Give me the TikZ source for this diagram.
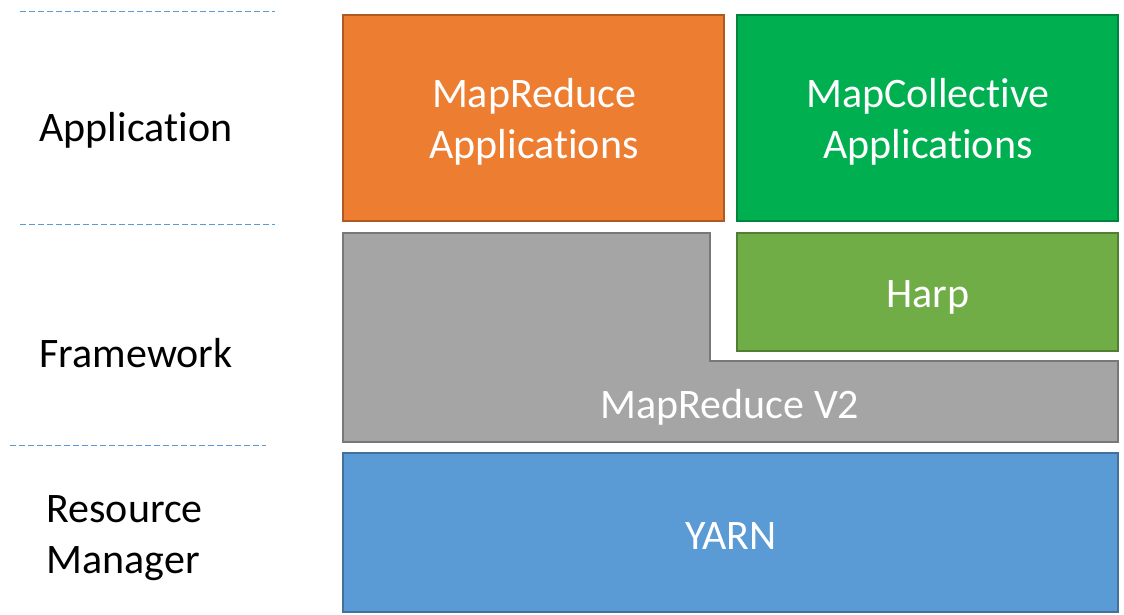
\documentclass[tikz,border=0pt]{standalone}
\usepackage{fontspec}
\setmainfont{Carlito}[Ligatures=NoCommon]
\usepackage{xcolor}
\usetikzlibrary{positioning, calc}

\definecolor{mrorange}{HTML}{ED7D31}
\definecolor{mrorangeline}{HTML}{AE5A21}
\definecolor{mcgreen}{HTML}{00B050}
\definecolor{mcgreenline}{HTML}{00843C}
\definecolor{harpgreen}{HTML}{70AD47}
\definecolor{harpgreenline}{HTML}{507E32}
\definecolor{mrgray}{HTML}{A5A5A5}
\definecolor{mrgrayline}{HTML}{787878}
\definecolor{yarnblue}{HTML}{5B9BD5}
\definecolor{yarnblueline}{HTML}{41719C}

\tikzset{
    layerbox/.style={draw, line width=2pt, inner sep=0pt, text=white, align=center,
        font=\fontsize{42}{51}\selectfont},
    layerlabel/.style={anchor=west, align=left, font=\fontsize{42}{51}\selectfont},
    separator/.style={draw=yarnblue, line width=1pt, dash pattern=on 6pt off 3pt}
}

\begin{document}
\begin{tikzpicture}[x=1pt, y=-1pt]
\useasboundingbox (0,0) rectangle (1124,614);

% Application layer
\node[layerbox, fill=mrorange, draw=mrorangeline, minimum width=381pt, minimum height=206pt]
    (mrapps) at (533.5,118) {};
\node[text=white, align=center, font=\fontsize{42}{51}\selectfont] (mrappstext) at (534,122) {MapReduce\\Applications};
\node[layerbox, fill=mcgreen, draw=mcgreenline, minimum width=381pt, minimum height=206pt]
    (mcapps) at (927.5,118) {};
\node[text=white, align=center, font=\fontsize{42}{51}\selectfont] (mcappstext) at (928,122) {MapCollective\\Applications};

% Framework layer
\filldraw[fill=mrgray, draw=mrgrayline, line width=2pt]
    (343,233) -- (710,233) -- (710,361) -- (1118,361) -- (1118,442) -- (343,442) -- cycle;
\node[text=white, font=\fontsize{42}{51}\selectfont] (mrv2) at (730,407) {MapReduce V2};
\node[layerbox, fill=harpgreen, draw=harpgreenline, minimum width=381pt, minimum height=118pt]
    (harp) at (927.5,292) {};
\node[text=white, font=\fontsize{42}{51}\selectfont] (harptext) at (928,297) {Harp};

% Resource manager layer
\node[layerbox, fill=yarnblue, draw=yarnblueline, minimum width=775pt, minimum height=159pt]
    (yarn) at (730.5,532.5) {};
\node[text=white, font=\fontsize{42}{51}\selectfont] (yarntext) at (731,536) {YARN};

% Layer names
\node[layerlabel] (lapp) at (36,130) {Application};
\node[layerlabel] (lfw) at (36,353) {Framework};
\node[layerlabel] (lrm) at (43,538) {Resource\\Manager};

% Dashed separators
\coordinate (s1a) at (20,11);  \coordinate (s1b) at (275,11);
\coordinate (s2a) at (20,224); \coordinate (s2b) at (275,224);
\coordinate (s3a) at (10,445); \coordinate (s3b) at (266,445);
\draw[separator] (s1a) -- (s1b);
\draw[separator] (s2a) -- (s2b);
\draw[separator] (s3a) -- (s3b);

\end{tikzpicture}
\end{document}
